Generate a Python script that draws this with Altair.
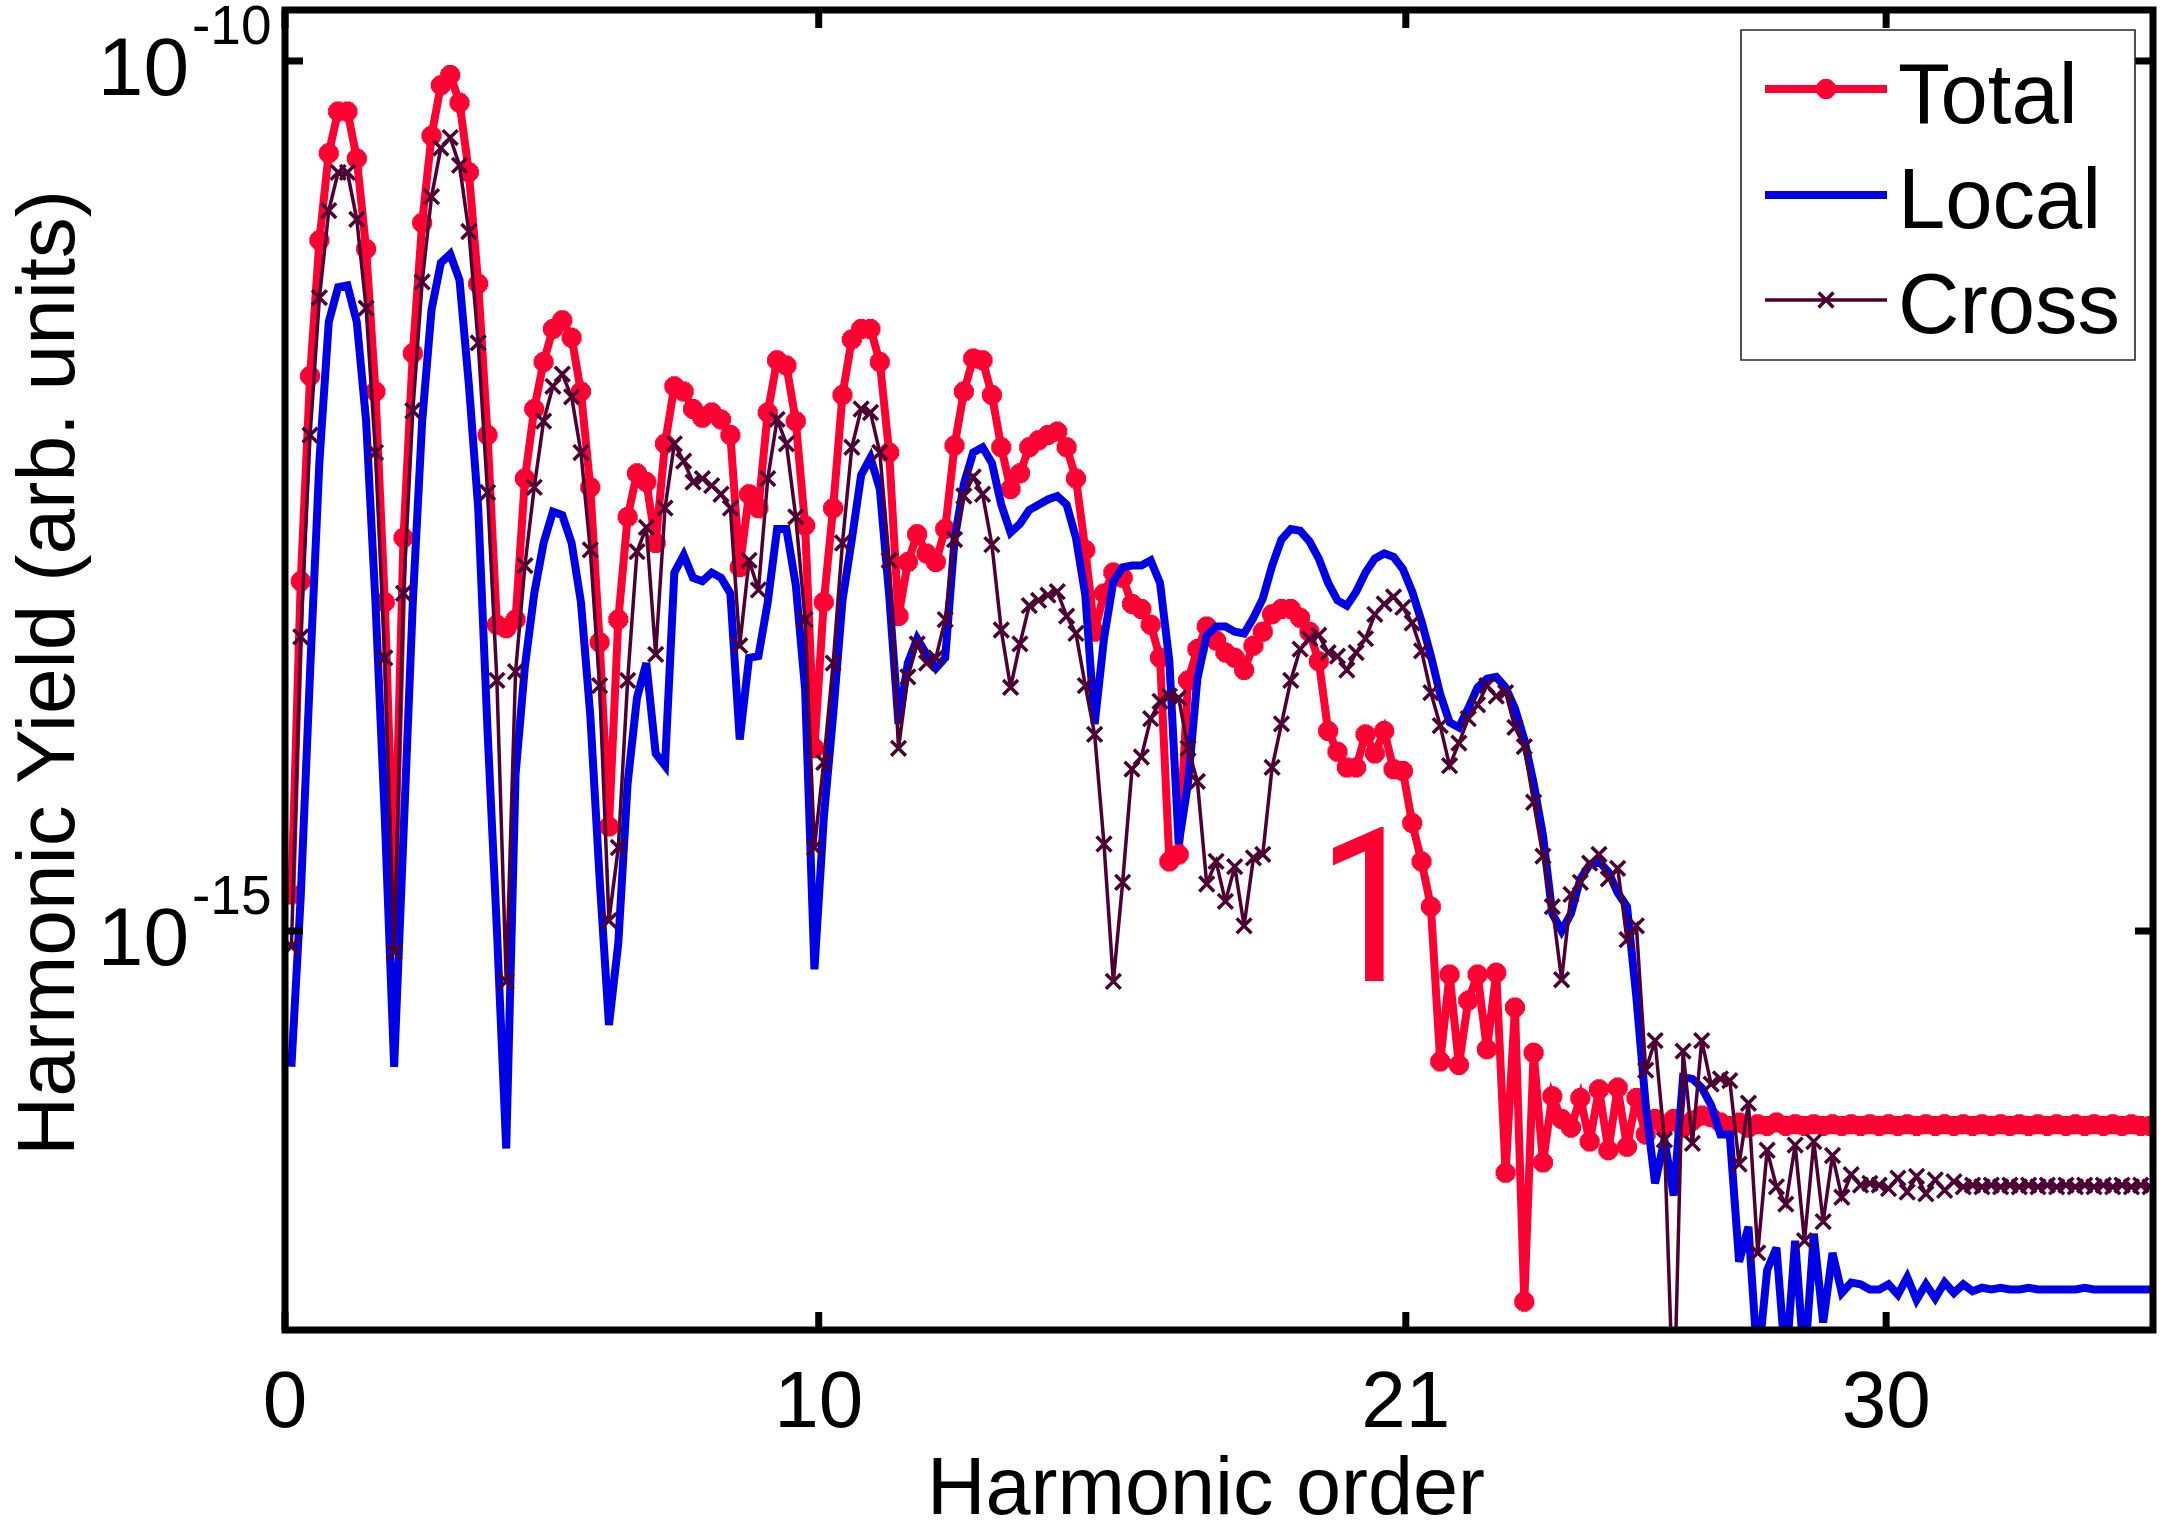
import numpy as np
import pandas as pd
import altair as alt

# Spectrum sampling grid (harmonic order of the first sample and spacing)
order_start = 0.12
order_step = 0.175
n_samples = 200

# log10 of the harmonic yield, one value per sample
total_log10 = [
    -14.79, -12.99, -11.81, -11.03, -10.53, -10.29, -10.29, -10.56, -11.08, -11.90,
    -13.11, -14.79, -12.74, -11.68, -10.93, -10.43, -10.14, -10.08, -10.24, -10.64,
    -11.28, -12.15, -13.24, -13.26, -13.21, -12.40, -12.00, -11.73, -11.54, -11.49,
    -11.59, -11.90, -12.45, -13.34, -14.40, -13.21, -12.62, -12.37, -12.42, -12.77,
    -12.20, -11.87, -11.90, -12.00, -12.05, -12.02, -12.06, -12.15, -12.91, -12.49,
    -12.57, -12.02, -11.72, -11.75, -12.07, -12.67, -13.95, -13.11, -12.57, -11.92,
    -11.60, -11.54, -11.54, -11.73, -12.25, -13.19, -12.88, -12.72, -12.83, -12.88,
    -12.69, -12.21, -11.90, -11.71, -11.72, -11.92, -12.22, -12.46, -12.37, -12.22,
    -12.18, -12.15, -12.13, -12.22, -12.40, -12.81, -13.28, -13.06, -12.94, -12.97,
    -13.12, -13.15, -13.24, -13.43, -14.60, -14.56, -13.56, -13.38, -13.25, -13.33,
    -13.40, -13.43, -13.50, -13.36, -13.28, -13.18, -13.15, -13.15, -13.20, -13.28,
    -13.45, -13.85, -13.97, -14.06, -14.06, -13.87, -13.98, -13.85, -14.07, -14.08,
    -14.38, -14.60, -14.86, -15.75, -15.25, -15.77, -15.40, -15.25, -15.68, -15.24,
    -16.39, -15.44, -17.13, -15.70, -16.33, -15.95, -16.08, -16.13, -15.96, -16.21,
    -15.91, -16.26, -15.90, -16.24, -15.96, -16.17, -16.08, -16.12, -16.08, -16.13,
    -16.09, -16.06, -16.07, -16.10, -16.12, -16.10, -16.13, -16.11, -16.12, -16.10,
    -16.12, -16.11, -16.12, -16.11, -16.12, -16.11, -16.12, -16.11, -16.12, -16.11,
    -16.12, -16.11, -16.12, -16.11, -16.12, -16.11, -16.12, -16.11, -16.12, -16.11,
    -16.12, -16.11, -16.12, -16.11, -16.12, -16.11, -16.12, -16.11, -16.12, -16.11,
    -16.12, -16.11, -16.12, -16.11, -16.12, -16.11, -16.12, -16.11, -16.12, -16.12,
]

local_log10 = [
    -15.78, -14.80, -13.51, -12.30, -11.50, -11.30, -11.29, -11.50, -12.07, -13.11,
    -14.35, -15.78, -14.45, -13.11, -12.07, -11.43, -11.16, -11.11, -11.26, -11.86,
    -12.57, -13.85, -14.99, -16.25, -14.10, -13.48, -13.06, -12.77, -12.59, -12.61,
    -12.77, -13.11, -13.76, -14.70, -15.54, -15.07, -14.15, -13.66, -13.46, -13.98,
    -14.05, -12.94, -12.84, -12.97, -12.99, -12.94, -12.97, -13.06, -13.90, -13.43,
    -13.42, -13.11, -12.69, -12.69, -13.01, -13.61, -15.22, -14.35, -13.76, -13.10,
    -12.75, -12.38, -12.28, -12.46, -13.07, -13.81, -13.46, -13.32, -13.41, -13.49,
    -13.43, -12.75, -12.43, -12.25, -12.22, -12.31, -12.55, -12.71, -12.66, -12.58,
    -12.55, -12.52, -12.50, -12.55, -12.74, -13.07, -13.81, -13.32, -12.99, -12.91,
    -12.90, -12.90, -12.87, -13.00, -13.45, -14.50, -14.15, -13.55, -13.30, -13.25,
    -13.25, -13.28, -13.29, -13.20, -13.09, -12.90, -12.75, -12.69, -12.70, -12.76,
    -12.86, -13.00, -13.10, -13.13, -13.05, -12.94, -12.86, -12.83, -12.85, -12.92,
    -13.05, -13.22, -13.42, -13.64, -13.80, -13.83, -13.72, -13.60, -13.55, -13.54,
    -13.60, -13.72, -13.90, -14.15, -14.45, -14.90, -15.00, -14.90, -14.70, -14.62,
    -14.60, -14.66, -14.78, -14.86, -15.38, -16.00, -16.45, -16.20, -16.52, -15.84,
    -15.85, -15.90, -16.00, -16.17, -16.17, -16.90, -16.70, -17.50, -16.95, -16.82,
    -17.50, -16.78, -17.50, -16.74, -17.25, -16.85, -17.08, -17.02, -17.03, -17.06,
    -17.06, -17.03, -17.09, -16.99, -17.12, -17.03, -17.11, -17.02, -17.08, -17.03,
    -17.07, -17.05, -17.06, -17.05, -17.06, -17.06, -17.05, -17.06, -17.06, -17.06,
    -17.06, -17.06, -17.05, -17.06, -17.06, -17.06, -17.06, -17.06, -17.06, -17.06,
]

cross_log10 = [
    -15.09, -13.31, -12.15, -11.36, -10.86, -10.64, -10.64, -10.91, -11.42, -12.25,
    -13.43, -15.12, -13.06, -12.01, -11.27, -10.78, -10.50, -10.44, -10.60, -10.98,
    -11.62, -12.48, -13.56, -15.29, -13.51, -12.90, -12.45, -12.07, -11.87, -11.80,
    -11.93, -12.25, -12.81, -13.59, -14.94, -14.52, -13.56, -12.82, -12.68, -13.41,
    -12.57, -12.20, -12.30, -12.42, -12.40, -12.44, -12.49, -12.57, -13.36, -12.87,
    -13.04, -12.40, -12.06, -12.20, -12.62, -13.21, -14.52, -14.03, -13.46, -12.77,
    -12.22, -12.00, -12.02, -12.25, -12.87, -13.95, -13.54, -13.35, -13.46, -13.43,
    -13.21, -12.75, -12.50, -12.39, -12.49, -12.78, -13.27, -13.60, -13.35, -13.13,
    -13.10, -13.07, -13.05, -13.19, -13.29, -13.59, -13.87, -14.50, -15.29, -14.72,
    -14.07, -14.00, -13.78, -13.68, -13.65, -13.66, -13.95, -14.14, -14.73, -14.60,
    -14.83, -14.63, -14.97, -14.58, -14.56, -14.06, -13.81, -13.56, -13.38, -13.32,
    -13.30, -13.40, -13.42, -13.50, -13.40, -13.32, -13.18, -13.12, -13.08, -13.14,
    -13.23, -13.39, -13.63, -13.82, -14.05, -13.92, -13.78, -13.70, -13.59, -13.65,
    -13.63, -13.83, -13.94, -14.26, -14.57, -14.86, -15.28, -14.79, -14.72, -14.61,
    -14.56, -14.70, -14.64, -15.05, -14.97, -15.80, -15.63, -16.20, -17.80, -15.69,
    -16.22, -15.63, -15.88, -15.85, -15.86, -16.34, -15.99, -16.85, -16.26, -16.47,
    -16.57, -16.23, -16.78, -16.21, -16.67, -16.29, -16.53, -16.40, -16.46, -16.45,
    -16.46, -16.48, -16.42, -16.50, -16.41, -16.51, -16.43, -16.49, -16.44, -16.47,
    -16.46, -16.47, -16.46, -16.47, -16.46, -16.47, -16.46, -16.47, -16.46, -16.47,
    -16.46, -16.47, -16.46, -16.47, -16.46, -16.47, -16.46, -16.47, -16.46, -16.47,
]

series_names = ["Total", "Local", "Cross"]
series_colors = {"Total": "#FF0033", "Local": "#0000E6", "Cross": "#4C0033"}

x_tick_values = [0, 10, 21, 30]
x_tick_labels = ["0", "10", "21", "30"]
y_tick_exponents = [-10, -15]

annotation_order = [20.31]
annotation_log10 = [-15.29]
annotation_text = ["1"]

# ---------------------------------------------------------------------------
FONT = "Liberation Sans"
NARROW = "Roboto Condensed, Roboto, Liberation Sans"
W, H = 1868, 1320
ASTERISK = "M-1,0L1,0M0,-1L0,1M-0.7,-0.7L0.7,0.7M-0.7,0.7L0.7,-0.7"
XMARK = "M-1,-1L1,1M-1,1L1,-1"
STAR_SIZE, STAR_W = 400, 7
X_SIZE, X_W = 220, 3.5

harmonic_order = np.round(order_start + order_step * np.arange(n_samples), 4)


def series_frame(values):
    return pd.DataFrame({"order": harmonic_order, "yield": np.power(10.0, np.array(values))})


x_scale = alt.Scale(domain=[0, 35], nice=False, zero=False)
y_scale = alt.Scale(type="log", domain=[10 ** -17.293, 10 ** -9.707], nice=False)
X = alt.X("order:Q", scale=x_scale, axis=None)
Y = alt.Y("yield:Q", scale=y_scale, axis=None)

total_base = alt.Chart(series_frame(total_log10)).encode(x=X, y=Y)
local_base = alt.Chart(series_frame(local_log10)).encode(x=X, y=Y)
cross_base = alt.Chart(series_frame(cross_log10)).encode(x=X, y=Y)

total_line = total_base.mark_line(color=series_colors["Total"], strokeWidth=8, clip=True)
total_pts = total_base.mark_point(shape=ASTERISK, filled=False, size=STAR_SIZE, strokeWidth=STAR_W,
                                  color=series_colors["Total"], opacity=1, clip=True)
local_line = local_base.mark_line(color=series_colors["Local"], strokeWidth=8, clip=True)
cross_line = cross_base.mark_line(color=series_colors["Cross"], strokeWidth=3.5, clip=True)
cross_pts = cross_base.mark_point(shape=XMARK, filled=False, size=X_SIZE, strokeWidth=X_W,
                                  color=series_colors["Cross"], opacity=1, clip=True)

# annotation "1"
ann_df = pd.DataFrame({"order": annotation_order,
                       "yield": np.power(10.0, np.array(annotation_log10)),
                       "label": annotation_text})
annotation = alt.Chart(ann_df).mark_text(font=NARROW, fontSize=215, fontWeight="normal",
                                         color=series_colors["Total"],
                                         align="center", baseline="alphabetic").encode(
    x=X, y=Y, text="label:N")

# inward ticks on all four sides
xt_df = pd.DataFrame({"order": x_tick_values, "label": x_tick_labels})
yt_df = pd.DataFrame({"yield": [10.0 ** e for e in y_tick_exponents],
                      "mant": ["10"] * len(y_tick_exponents),
                      "exp": [str(e) for e in y_tick_exponents]})

tick_len = 18
ticks_bottom = alt.Chart(xt_df).mark_rule(color="black", strokeWidth=7).encode(
    x=X, y=alt.value(H), y2=alt.value(H - tick_len))
ticks_top = alt.Chart(xt_df).mark_rule(color="black", strokeWidth=7).encode(
    x=X, y=alt.value(0), y2=alt.value(tick_len))
ticks_left = alt.Chart(yt_df).mark_rule(color="black", strokeWidth=7).encode(
    y=Y, x=alt.value(0), x2=alt.value(tick_len))
ticks_right = alt.Chart(yt_df).mark_rule(color="black", strokeWidth=7).encode(
    y=Y, x=alt.value(W - tick_len), x2=alt.value(W))

x_labels = alt.Chart(xt_df).mark_text(font=FONT, fontSize=80, color="black",
                                      align="center", baseline="alphabetic").encode(
    x=X, y=alt.value(H + 97), text="label:N")
y_mant = alt.Chart(yt_df).mark_text(font=FONT, fontSize=82, color="black",
                                    align="right", baseline="alphabetic", dy=34).encode(
    y=Y, x=alt.value(-96), text="mant:N")
y_exp = alt.Chart(yt_df).mark_text(font=FONT, fontSize=55, color="black",
                                   align="left", baseline="alphabetic", dy=-17).encode(
    y=Y, x=alt.value(-93), text="exp:N")

one = pd.DataFrame({"k": [0]})
x_title = alt.Chart(one).mark_text(text="Harmonic order", font=FONT, fontSize=81, color="black",
                                   align="center", baseline="alphabetic").encode(
    x=alt.value(921), y=alt.value(1504))
y_title = alt.Chart(one).mark_text(text="Harmonic Yield (arb. units)", font=FONT, fontSize=82,
                                   color="black", angle=270, align="center",
                                   baseline="alphabetic").encode(
    x=alt.value(-211), y=alt.value(663))

frame = alt.Chart(one).mark_rect(fill="white", fillOpacity=0, stroke="black", strokeWidth=7).encode(
    x=alt.value(0), x2=alt.value(W), y=alt.value(0), y2=alt.value(H))

# legend
legend_box = alt.Chart(one).mark_rect(fill="white", stroke="#262626", strokeWidth=1.6).encode(
    x=alt.value(1456), x2=alt.value(1850), y=alt.value(20), y2=alt.value(350))
legend_layers = [legend_box]
legend_rows = [("Total", 79, 113, 8, ASTERISK), ("Local", 185, 218, 8, None), ("Cross", 290, 323, 3.5, XMARK)]
for name, ly, ty, lw, shape in legend_rows:
    col = series_colors[name]
    legend_layers.append(alt.Chart(one).mark_rule(color=col, strokeWidth=lw).encode(
        x=alt.value(1480), x2=alt.value(1602), y=alt.value(ly)))
    if shape == ASTERISK:
        legend_layers.append(alt.Chart(one).mark_point(shape=shape, filled=False, size=STAR_SIZE,
                                                       strokeWidth=STAR_W, color=col, opacity=1).encode(
            x=alt.value(1541), y=alt.value(ly)))
    elif shape == XMARK:
        legend_layers.append(alt.Chart(one).mark_point(shape=shape, filled=False, size=X_SIZE,
                                                       strokeWidth=X_W, color=col, opacity=1).encode(
            x=alt.value(1541), y=alt.value(ly)))
    legend_layers.append(alt.Chart(one).mark_text(text=name, font=FONT, fontSize=85, color="black",
                                                  align="left", baseline="alphabetic").encode(
        x=alt.value(1613), y=alt.value(ty)))

chart = alt.layer(
    total_line, total_pts, local_line, cross_line, cross_pts, annotation,
    ticks_bottom, ticks_top, ticks_left, ticks_right, frame,
    x_labels, y_mant, y_exp, x_title, y_title,
    *legend_layers,
).properties(
    width=W, height=H,
    padding={"left": 285, "top": 10, "right": 9, "bottom": 201},
    autosize=alt.AutoSizeParams(type="none"),
    background="white",
).configure_view(stroke="transparent")

chart.save("out.html", embed_options={"renderer": "svg", "actions": False})
